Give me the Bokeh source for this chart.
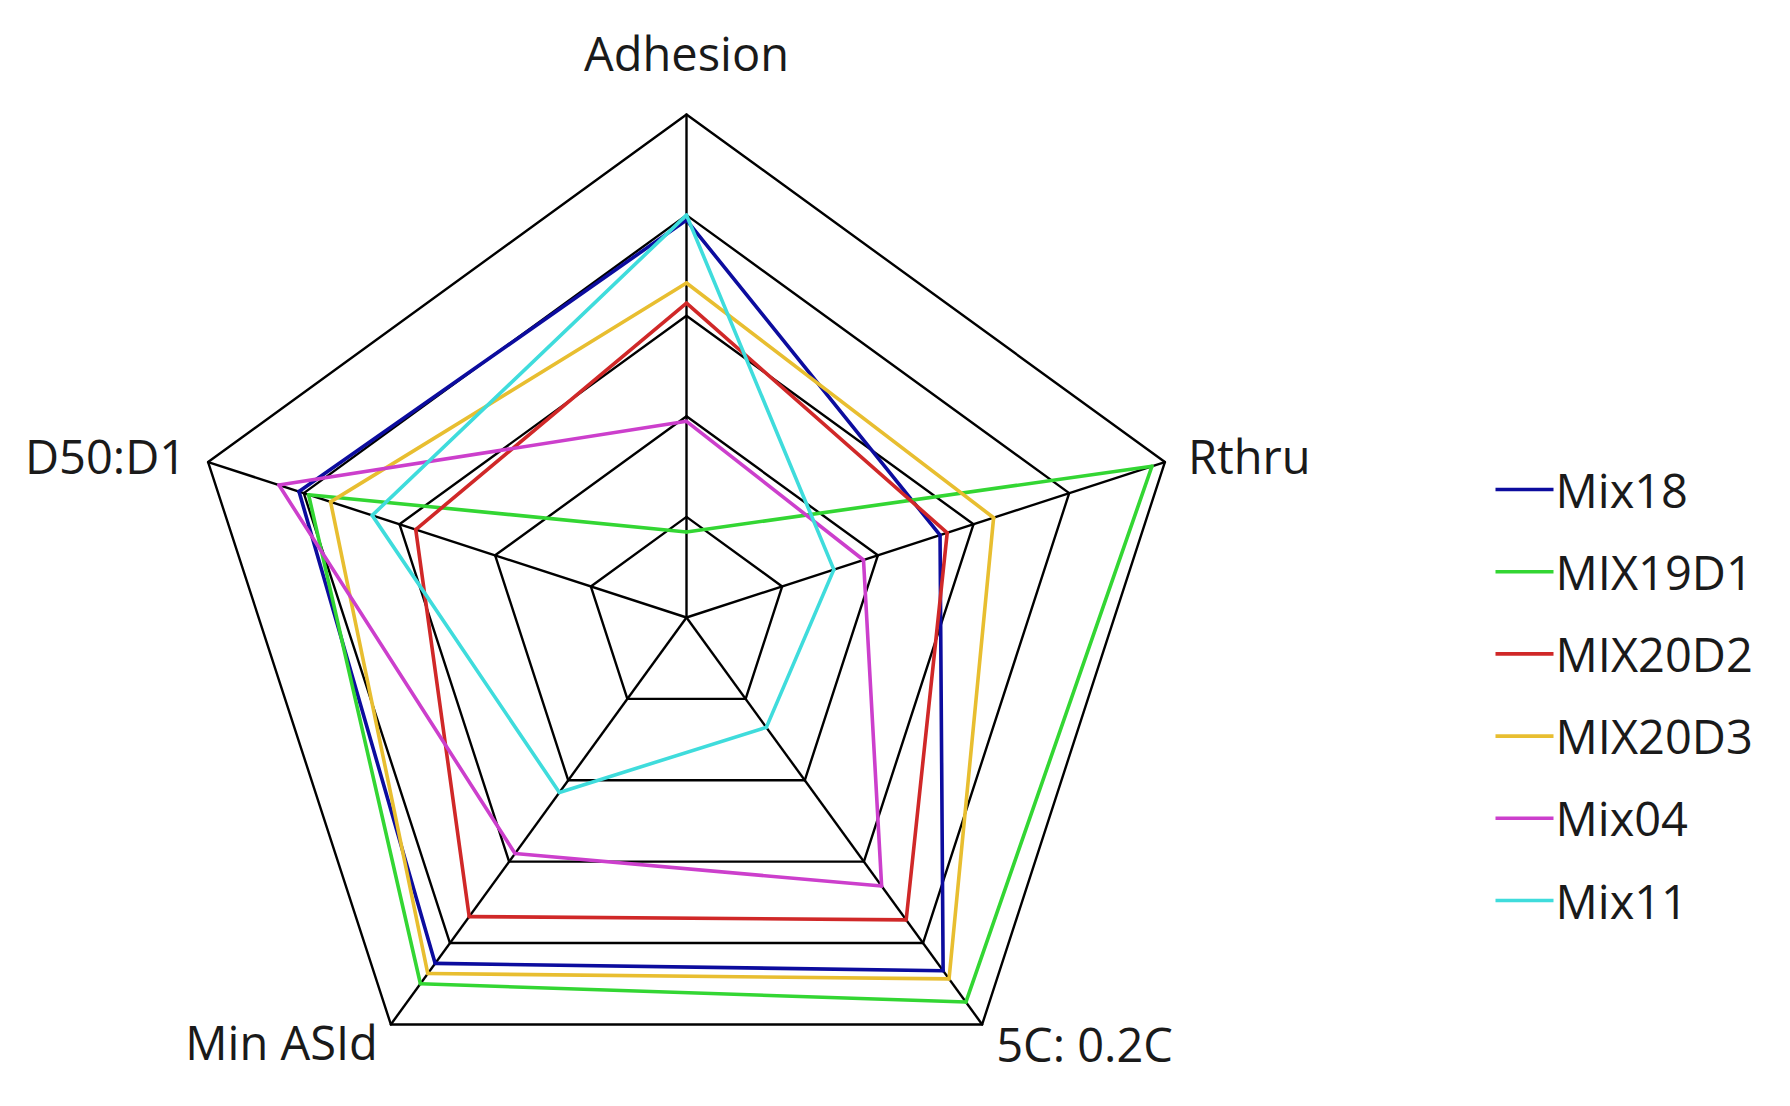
import numpy as np
from bokeh.plotting import figure
from bokeh.models import Range1d
from bokeh.core.properties import value
from bokeh.embed import file_html
from bokeh.resources import INLINE

# ---------------- data ----------------
axis_labels = ["Adhesion", "Rthru", "5C: 0.2C", "Min ASId", "D50:D1"]
ring_levels = [0.2, 0.4, 0.6, 0.8, 1.0]

series_names = ["Mix18", "MIX19D1", "MIX20D2", "MIX20D3", "Mix04", "Mix11"]
mix18   = [0.79, 0.53, 0.868, 0.85, 0.81]
mix19d1 = [0.17, 0.973, 0.945, 0.90, 0.79]
mix20d2 = [0.625, 0.545, 0.743, 0.735, 0.566]
mix20d3 = [0.665, 0.642, 0.888, 0.875, 0.744]
mix04   = [0.39, 0.37, 0.66, 0.58, 0.852]
mix11   = [0.80, 0.308, 0.27, 0.43, 0.657]
series_values = [mix18, mix19d1, mix20d2, mix20d3, mix04, mix11]
series_colors = ["#0C0C9E", "#33D633", "#D02828", "#E8BE30", "#CC3FCC", "#3FDCDC"]

# ---------------- layout ----------------
W, H = 1774, 1090
SCALE = 503.0          # px per unit radius
CX, CY = 686.0, 617.0  # center in figure px

x0 = -CX / SCALE
x1 = x0 + W / SCALE
y1 = CY / SCALE
y0 = y1 - H / SCALE

p = figure(width=W, height=H, output_backend="svg", toolbar_location=None,
           x_range=Range1d(x0, x1), y_range=Range1d(y0, y1),
           min_border=0, outline_line_color=None)
p.axis.visible = False
p.grid.visible = False
p.background_fill_color = "white"
p.border_fill_color = "white"

n = len(axis_labels)
theta = np.pi / 2 - np.arange(n) * 2 * np.pi / n
cos_t, sin_t = np.cos(theta), np.sin(theta)
nxt = [(i + 1) % n for i in range(n)]

# rings (as segments between neighbouring spokes)
rx0, ry0, rx1, ry1 = [], [], [], []
for lv in ring_levels:
    for i in range(n):
        j = nxt[i]
        rx0.append(lv * cos_t[i]); ry0.append(lv * sin_t[i])
        rx1.append(lv * cos_t[j]); ry1.append(lv * sin_t[j])
p.segment(x0=rx0, y0=ry0, x1=rx1, y1=ry1, line_color="black", line_width=2.4,
          line_cap="round")

# spokes
top = max(ring_levels)
p.segment(x0=[0.0] * n, y0=[0.0] * n, x1=list(top * cos_t), y1=list(top * sin_t),
          line_color="black", line_width=2.4)

# series
for vals, col in zip(series_values, series_colors):
    v = np.array(vals, dtype=float)
    sx0 = list(v * cos_t)
    sy0 = list(v * sin_t)
    sx1 = [sx0[j] for j in nxt]
    sy1 = [sy0[j] for j in nxt]
    p.segment(x0=sx0, y0=sy0, x1=sx1, y1=sy1, line_color=col, line_width=3.6,
              line_cap="round")

# axis labels
label_style = [  # (dx px, dy px, align)
    (0, 62, "center"),
    (23, 6, "left"),
    (14, -20, "left"),
    (-13, -18, "right"),
    (-22, 6, "right"),
]
FONT = value("Open Sans")
for i, lab in enumerate(axis_labels):
    dx, dy, al = label_style[i]
    p.text(x=[top * cos_t[i] + dx / SCALE], y=[top * sin_t[i] + dy / SCALE], text=[lab],
           text_font=FONT, text_font_size="47px", text_color="#1a1a1a",
           text_align=al, text_baseline="middle")

# legend (manual)
LX0, LX1 = 1495, 1553
LY0, LDY = 489, 82.2
for k, (name, col) in enumerate(zip(series_names, series_colors)):
    ypx = LY0 + k * LDY
    yd = (CY - ypx) / SCALE
    p.segment(x0=[(LX0 - CX) / SCALE], y0=[yd], x1=[(LX1 - CX) / SCALE], y1=[yd],
              line_color=col, line_width=3.6)
    p.text(x=[(LX1 + 2 - CX) / SCALE], y=[yd], text=[name],
           text_font=FONT, text_font_size="47px", text_color="#1a1a1a",
           text_align="left", text_baseline="middle")

open("out.html", "w").write(file_html(p, INLINE))
